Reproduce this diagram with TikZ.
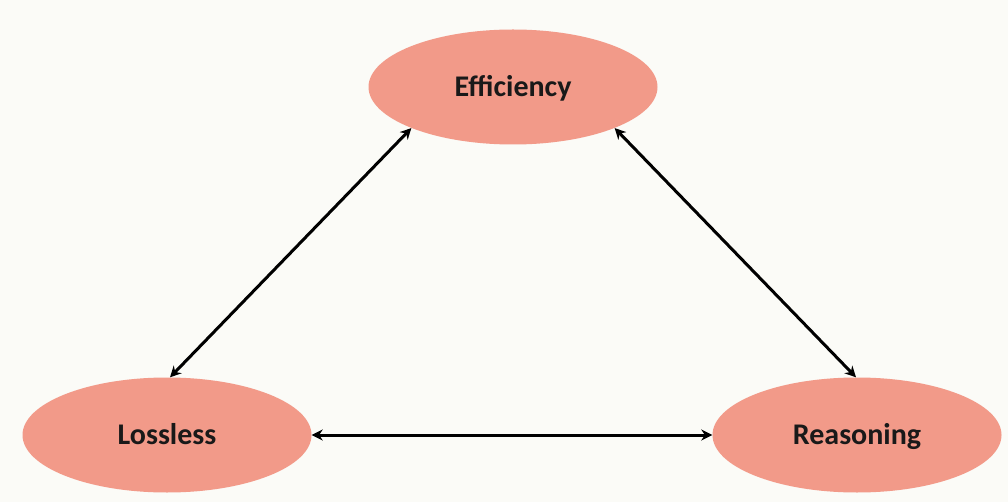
\documentclass[tikz,border=0pt]{standalone}
\usepackage{fontspec}
\setmainfont{Carlito}
\usetikzlibrary{shapes.geometric,arrows.meta}
\definecolor{salmon}{HTML}{F29A89}
\definecolor{bg}{HTML}{FBFBF7}
\tikzset{
  goal/.style={ellipse, fill=salmon, draw=none, minimum width=289pt, minimum height=115pt, inner sep=0pt, text height=19pt, text depth=0pt, font=\fontsize{30}{32}\selectfont\bfseries, text=black!90},
  link/.style={line width=3pt, {Stealth[length=11pt,width=11pt]}-{Stealth[length=11pt,width=11pt]}}
}
\begin{document}
\begin{tikzpicture}[x=1pt,y=-1pt]
\fill[bg] (0,0) rectangle (1008,502);
\useasboundingbox (0,0) rectangle (1008,502);
\node[goal] (eff) at (513,87) {Efficiency};
\node[goal] (los) at (167,435) {Lossless};
\node[goal] (rea) at (857,435) {Reasoning};
\draw[link] (eff.202) -- (los.87);
\draw[link] (eff.338) -- (rea.91);
\draw[link] (los) -- (rea);
\end{tikzpicture}
\end{document}
